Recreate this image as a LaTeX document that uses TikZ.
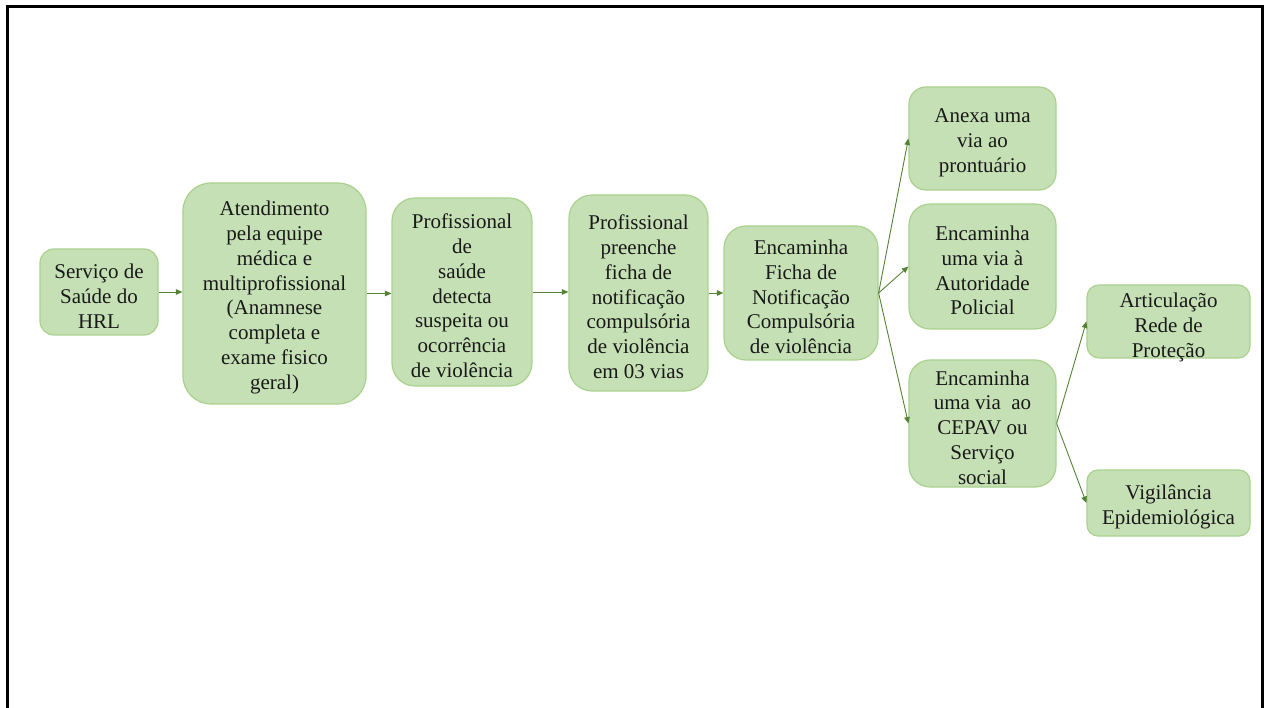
\documentclass[tikz,border=0pt]{standalone}
\usepackage{fontspec}
\setmainfont{Liberation Serif}
\usetikzlibrary{arrows.meta}
\definecolor{boxfill}{RGB}{197,224,180}
\definecolor{boxline}{RGB}{169,209,142}
\definecolor{arrowgreen}{RGB}{84,130,53}
\newcommand{\topstrut}{\rule{0pt}{22.5pt}}
\newcommand{\nodepth}[1]{\raisebox{0pt}[\height][0pt]{#1}}
\tikzset{
  box/.style={draw=boxline, line width=1.2pt, fill=boxfill, align=center, inner sep=0pt,
    font=\fontsize{21}{24.8}\selectfont, text=black!90},
  conn/.style={draw=arrowgreen, line width=0.9pt, -{Triangle[length=6.5pt,width=5.5pt]}},
  frameline/.style={draw=black, line width=3pt}
}
\begin{document}
\begin{tikzpicture}[x=1pt,y=-1pt]
\useasboundingbox (0,0) rectangle (1264,708);
\draw[frameline] (7,730) -- (7,7) -- (1262.5,7) -- (1262.5,730);

\node[box, minimum width=118pt, minimum height=86pt, rounded corners=14pt] (b1) at (99,292)
  {\topstrut Serviço de\\Saúde do\\HRL};
\node[box, minimum width=183pt, minimum height=221pt, rounded corners=28pt] (b2) at (274.5,293.5)
  {\topstrut Atendimento\\pela equipe\\médica e\\multiprofissional\\(Anamnese\\completa e\\exame fisico\\geral)};
\node[box, minimum width=140pt, minimum height=188pt, rounded corners=23pt] (b3) at (462,292)
  {\topstrut Profissional\\de\\saúde\\detecta\\suspeita ou\\ocorrência\\de violência};
\node[box, minimum width=139pt, minimum height=196pt, rounded corners=23pt] (b4) at (638.5,293)
  {\topstrut Profissional\\preenche\\ficha de\\notificação\\compulsória\\de violência\\em 03 vias};
\node[box, minimum width=154pt, minimum height=134pt, rounded corners=22pt] (b5) at (801,293)
  {\topstrut Encaminha\\Ficha de\\Notificação\\Compulsória\\de violência};
\node[box, minimum width=147pt, minimum height=103pt, rounded corners=17pt] (b6) at (982.5,138.5)
  {\topstrut Anexa uma\\via ao\\prontuário};
\node[box, minimum width=147pt, minimum height=125pt, rounded corners=21pt] (b7) at (982.5,266.5)
  {\topstrut Encaminha\\uma via à\\Autoridade\\Policial};
\node[box, minimum width=147pt, minimum height=127pt, rounded corners=21pt] (b8) at (982.5,423.5)
  {\topstrut Encaminha\\uma via\ \ ao\\CEPAV ou\\Serviço\\social};
\node[box, minimum width=163pt, minimum height=73pt, rounded corners=12pt] (b9) at (1168.5,321.5)
  {\topstrut Articulação\\Rede de\\\nodepth{Proteção}};
\node[box, minimum width=163pt, minimum height=66pt, rounded corners=11pt] (b10) at (1168.5,503)
  {\topstrut Vigilância\\Epidemiológica};

\draw[conn] (b1.east) -- (b1.east -| b2.west);
\draw[conn] (b2.east) -- (b2.east -| b3.west);
\draw[conn] (b3.east) -- (b3.east -| b4.west);
\draw[conn] (b4.east) -- (b4.east -| b5.west);
\draw[conn] (b5.east) -- (b6.west);
\draw[conn] (b5.east) -- (b7.west);
\draw[conn] (b5.east) -- (b8.west);
\draw[conn] (b8.east) -- (b9.west);
\draw[conn] (b8.east) -- (b10.west);
\end{tikzpicture}
\end{document}
